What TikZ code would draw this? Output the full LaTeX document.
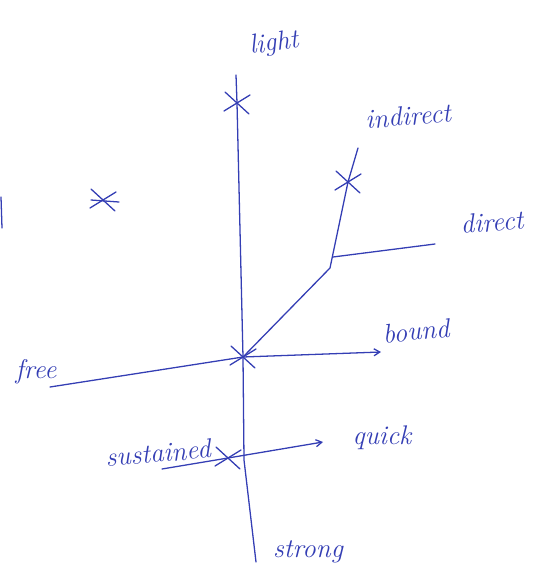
\documentclass[tikz,border=0pt]{standalone}
\usepackage{tikz}
\usetikzlibrary{arrows.meta}
\definecolor{ink}{RGB}{52,62,180}

\begin{document}
\begin{tikzpicture}[x=0.03cm,y=-0.03cm,
      stroke/.style={ink,line width=1.1pt,line cap=round},
      word/.style={ink,font=\fontsize{23}{27}\selectfont\itshape,inner sep=0pt},
      tip/.style={-{Straight Barb[length=5pt,width=6pt]}},
      cross/.pic={\draw[stroke] (-12,-11) -- (12,11) (-13,8) -- (13,-8);}]
    \useasboundingbox (0,0) rectangle (535,585);
    % axis ends and crossings, in pixels of the sheet
    \coordinate (top) at (236,75);
    \coordinate (l) at (237,103);
    \coordinate (c) at (243,357);
    \coordinate (mid) at (244,460);
    \coordinate (bottom) at (256,562);
    \coordinate (freeend) at (50,387);
    \coordinate (boundend) at (381,352);
    \coordinate (kink) at (330,268);
    \coordinate (ind) at (348,182);
    \coordinate (indend) at (358,148);
    \coordinate (dira) at (333,257);
    \coordinate (dirb) at (435,244);
    \coordinate (sa) at (162,469);
    \coordinate (s) at (228,458);
    \coordinate (qend) at (323,442);
    \coordinate (lone) at (103,200);
    % effort words
    \node[word,rotate=8] (light) at (274,44) {light};
    \node[word,rotate=5] (indirect) at (408,116) {indirect};
    \node[word,rotate=5] (direct) at (492,222) {direct};
    \node[word,rotate=5] (bound) at (416,331) {bound};
    \node[word] (free) at (36,372) {free};
    \node[word,rotate=5] (sustained) at (158,453) {sustained};
    \node[word] (quick) at (382,438) {quick};
    \node[word] (strong) at (308,552) {strong};
    % the strokes
    \draw[stroke] (top) -- (l) -- (c) -- (mid) -- (bottom);
    \draw[stroke,tip] (freeend) -- (c) -- (boundend);
    \draw[stroke] (c) -- (kink) -- (ind) -- (indend);
    \draw[stroke] (dira) -- (dirb);
    \draw[stroke,tip] (sa) -- (s) -- (qend);
    \draw[stroke] (1,197) -- (2,228);
    \foreach \p in {l,c,ind,s,lone}{\pic at (\p) {cross};}
    \draw[stroke] (lone) ++(-12,0) -- ++(28,2);
  \end{tikzpicture}
\end{document}
